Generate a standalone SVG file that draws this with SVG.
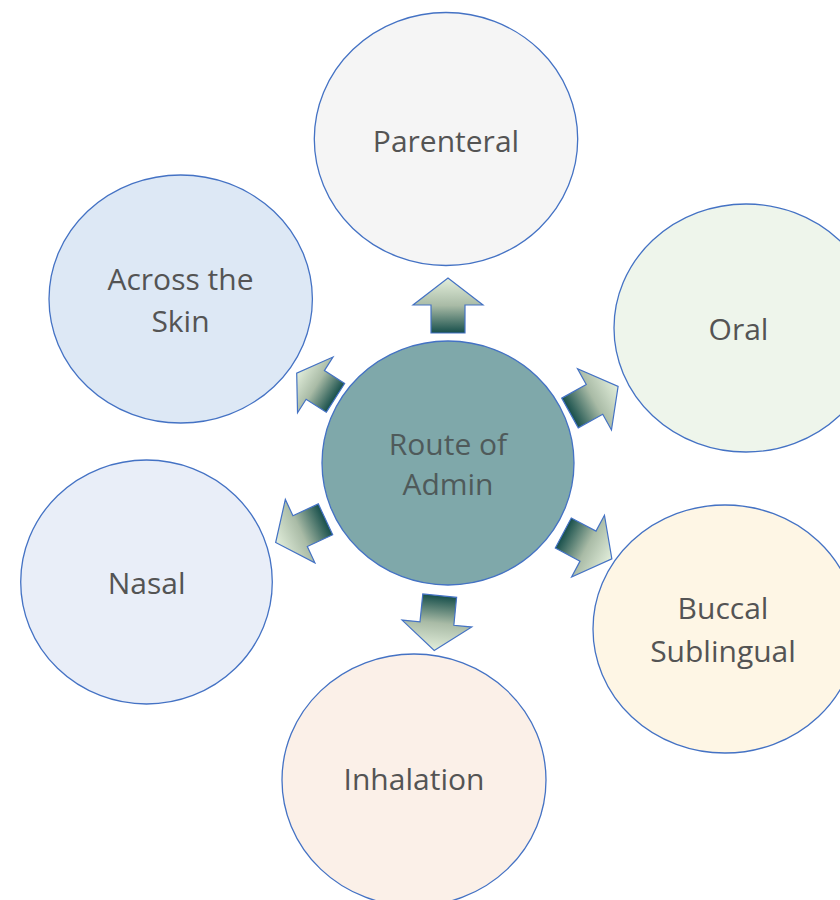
<svg xmlns="http://www.w3.org/2000/svg" xmlns:xlink="http://www.w3.org/1999/xlink" width="840" height="900" viewBox="0 0 840 900">
  <defs>
    <linearGradient id="arrGrad" x1="0" y1="0" x2="1" y2="0">
      <stop offset="0" stop-color="#174f4b"/>
      <stop offset="0.5" stop-color="#a9bba6"/>
      <stop offset="1" stop-color="#e2eedb"/>
    </linearGradient>
    <polygon id="arrow" points="0,-17 28,-17 28,-35 55,0 28,35 28,17 0,17"/>
    <polygon id="arrowShort" points="0,-17 24,-17 24,-33 46,0 24,33 24,17 0,17"/>
  </defs>
  <style>
    .node { stroke: #4472c4; stroke-width: 1.3; }
    .lbl { font-family: "Open Sans", "Noto Sans", "Liberation Sans", sans-serif; font-size: 30px; fill: #545454; text-anchor: middle; }
    .ctr { fill: #4f5a5a; }
    .arr { fill: url(#arrGrad); stroke: #4472c4; stroke-width: 1.2; stroke-linejoin: miter; }
  </style>
  <rect width="840" height="900" fill="#ffffff"/>

  <g id="connectors">
    <use xlink:href="#arrow" href="#arrow" class="arr" transform="translate(448,333) rotate(-90)"/>
    <use xlink:href="#arrow" href="#arrow" class="arr" transform="translate(570,413) rotate(-29)"/>
    <use xlink:href="#arrow" href="#arrow" class="arr" transform="translate(563.3,533) rotate(28)"/>
    <use xlink:href="#arrow" href="#arrow" class="arr" transform="translate(439.7,595.7) rotate(95.7)"/>
    <use xlink:href="#arrow" href="#arrow" class="arr" transform="translate(325.5,519.3) rotate(155)"/>
    <use xlink:href="#arrowShort" href="#arrowShort" class="arr" transform="translate(335.5,397.8) rotate(-147.5)"/>
  </g>

  <g id="node-parenteral">
    <ellipse class="node" cx="446" cy="139" rx="131.7" ry="126.5" fill="#f5f5f5"/>
    <text class="lbl" x="446" y="152">Parenteral</text>
  </g>
  <g id="node-oral">
    <ellipse class="node" cx="746" cy="328" rx="132" ry="124" fill="#eef5eb"/>
    <text class="lbl" x="738.5" y="340">Oral</text>
  </g>
  <g id="node-buccal">
    <ellipse class="node" cx="725" cy="629" rx="132" ry="124" fill="#fef6e5"/>
    <text class="lbl" x="723" y="619">Buccal</text>
    <text class="lbl" x="723" y="661.5">Sublingual</text>
  </g>
  <g id="node-inhalation">
    <ellipse class="node" cx="414" cy="780" rx="132" ry="126" fill="#fbf0e8"/>
    <text class="lbl" x="414" y="790">Inhalation</text>
  </g>
  <g id="node-nasal">
    <ellipse class="node" cx="146.5" cy="582" rx="125.8" ry="122" fill="#e9eef8"/>
    <text class="lbl" x="146.7" y="594">Nasal</text>
  </g>
  <g id="node-skin">
    <ellipse class="node" cx="180.7" cy="299" rx="131.7" ry="124" fill="#dde8f5"/>
    <text class="lbl" x="180.5" y="290">Across the</text>
    <text class="lbl" x="180.5" y="331.7">Skin</text>
  </g>
  <g id="node-center">
    <ellipse class="node" cx="448" cy="463" rx="126" ry="122" fill="#7fa8aa"/>
    <text class="lbl ctr" x="448" y="455">Route of</text>
    <text class="lbl ctr" x="448" y="495">Admin</text>
  </g>
</svg>
